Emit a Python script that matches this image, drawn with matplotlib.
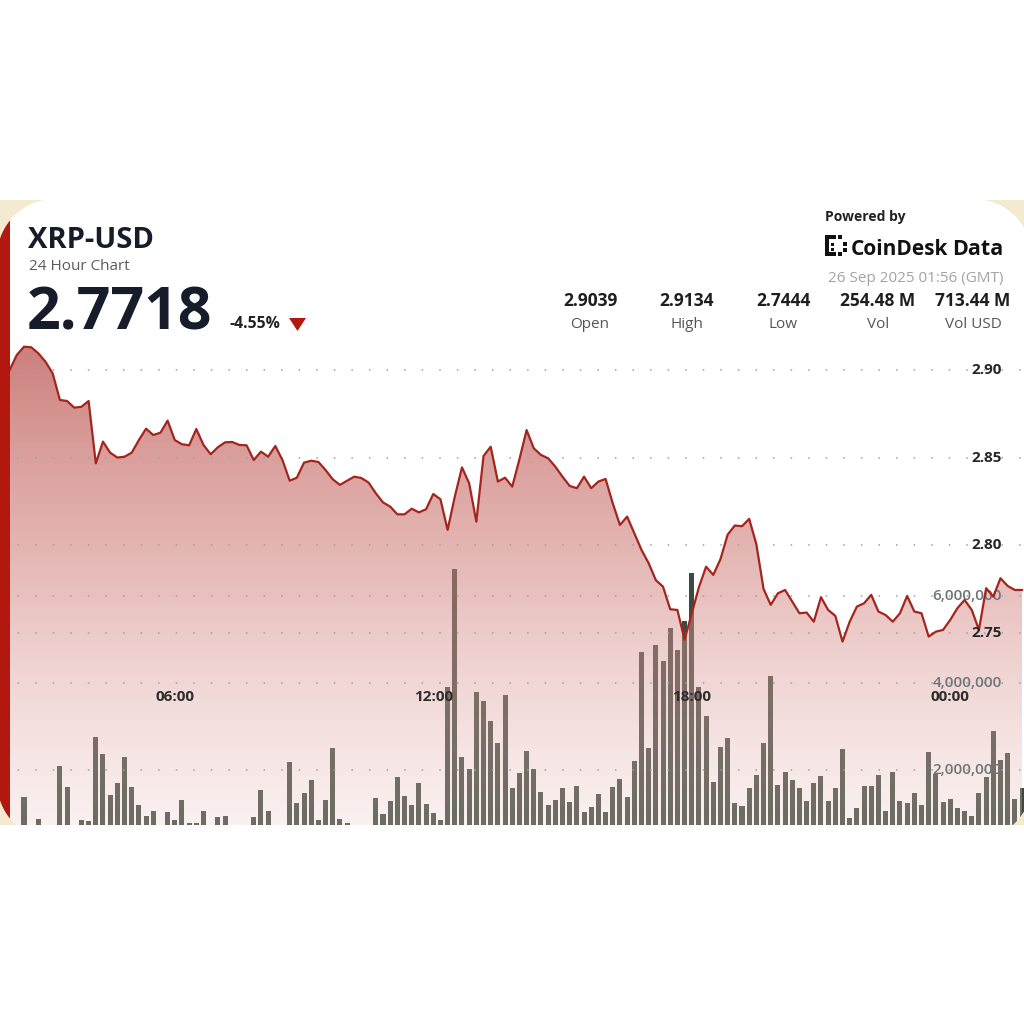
import numpy as np
import pandas as pd
import matplotlib
matplotlib.use("Agg")
import matplotlib.pyplot as plt
import matplotlib.dates as mdates
import matplotlib.transforms as mtransforms
from matplotlib.patches import Polygon, Rectangle

plt.rcParams['font.family'] = ['Open Sans', 'DejaVu Sans']

# ---- data --------------------------------------------------------------
price_times = pd.date_range('2025-09-25 02:10', periods=142, freq='10min')
price = [
    2.9000, 2.9086, 2.9133, 2.9130, 2.9095, 2.9047, 2.8980, 2.8829, 2.8823, 2.8785,
    2.8790, 2.8823, 2.8467, 2.8591, 2.8528, 2.8500, 2.8505, 2.8528, 2.8600, 2.8665,
    2.8629, 2.8642, 2.8711, 2.8600, 2.8576, 2.8570, 2.8663, 2.8572, 2.8519, 2.8559,
    2.8587, 2.8589, 2.8572, 2.8570, 2.8486, 2.8534, 2.8505, 2.8566, 2.8486, 2.8368,
    2.8385, 2.8471, 2.8482, 2.8475, 2.8429, 2.8376, 2.8344, 2.8368, 2.8391, 2.8383,
    2.8357, 2.8296, 2.8244, 2.8220, 2.8176, 2.8176, 2.8208, 2.8187, 2.8205, 2.8292,
    2.8262, 2.8087, 2.8277, 2.8444, 2.8353, 2.8134, 2.8509, 2.8562, 2.8363, 2.8385,
    2.8334, 2.8490, 2.8657, 2.8553, 2.8515, 2.8496, 2.8448, 2.8391, 2.8338, 2.8325,
    2.8391, 2.8325, 2.8363, 2.8378, 2.8239, 2.8115, 2.8163, 2.8068, 2.7973, 2.7897,
    2.7800, 2.7763, 2.7634, 2.7630, 2.7460, 2.7611, 2.7760, 2.7877, 2.7830, 2.7920,
    2.8060, 2.8112, 2.8108, 2.8150, 2.8005, 2.7750, 2.7659, 2.7725, 2.7744, 2.7678,
    2.7611, 2.7615, 2.7563, 2.7703, 2.7630, 2.7596, 2.7449, 2.7563, 2.7649, 2.7668,
    2.7716, 2.7621, 2.7601, 2.7563, 2.7611, 2.7710, 2.7621, 2.7611, 2.7478, 2.7506,
    2.7516, 2.7573, 2.7640, 2.7687, 2.7630, 2.7516, 2.7754, 2.7706, 2.7811, 2.7767,
    2.7744, 2.7744,
]

vol_times = pd.date_range('2025-09-25 02:30', periods=140, freq='10min')
volume_m = [
    1.37, 0.50, 0.87, 0.45, 0.60, 2.10, 1.60, 0.55, 0.84, 0.83,
    2.75, 2.36, 1.42, 1.70, 2.29, 1.60, 1.20, 0.95, 1.06, 0.60,
    1.03, 0.85, 1.31, 0.78, 0.78, 1.06, 0.50, 0.91, 0.94, 0.40,
    0.55, 0.60, 0.92, 1.55, 1.06, 0.50, 0.45, 2.18, 1.24, 1.48,
    1.76, 0.84, 1.30, 2.51, 0.87, 0.79, 0.60, 0.50, 0.65, 1.36,
    1.00, 1.29, 1.83, 1.41, 1.20, 1.71, 1.22, 1.02, 0.84, 3.90,
    6.62, 2.31, 2.03, 3.80, 3.58, 3.12, 2.61, 3.73, 1.59, 1.94,
    2.43, 2.02, 1.49, 1.20, 1.30, 1.59, 1.26, 1.63, 1.03, 1.15,
    1.45, 1.04, 1.60, 1.79, 1.37, 2.21, 4.71, 2.50, 4.88, 4.50,
    5.26, 4.75, 5.42, 6.52, 3.90, 3.23, 1.72, 2.54, 2.74, 1.24,
    1.17, 1.59, 1.89, 2.62, 4.17, 1.66, 1.95, 1.77, 1.58, 1.29,
    1.69, 1.86, 1.29, 1.59, 2.48, 0.89, 1.12, 1.63, 1.63, 1.88,
    1.06, 1.95, 1.29, 1.25, 1.46, 1.20, 2.41, 1.90, 1.26, 1.33,
    1.13, 1.06, 0.94, 1.46, 1.85, 2.90, 2.23, 2.38, 1.33, 1.59,
]

price_ticks = [2.75, 2.80, 2.85, 2.90]
vol_ticks = [2e6, 4e6, 6e6]
time_ticks = pd.to_datetime(['2025-09-25 06:00', '2025-09-25 12:00',
                             '2025-09-25 18:00', '2025-09-26 00:00'])
stat_values = ['2.9039', '2.9134', '2.7444', '254.48 M', '713.44 M']
stat_labels = ['Open', 'High', 'Low', 'Vol', 'Vol USD']

# ---- style -------------------------------------------------------------
LINE = '#a3261e'
BAR = '#3d4a40'
GRID = '#a0a0a0'
CREAM = '#f4ead0'
RED = '#b3180e'
DARK = '#161c29'

W = H = 1024
PX_PER_H = 43.08
TOP_PX, BOT_PX = 340, 825


def main():
    fig = plt.figure(figsize=(10.24, 10.24), dpi=100)
    fig.patch.set_facecolor('white')

    px = mdates.date2num(price_times)
    vx = mdates.date2num(vol_times)
    xmin = vx[0] - (24 / PX_PER_H) / 24
    xmax = xmin + (W / PX_PER_H) / 24

    rect = [0, 1 - BOT_PX / H, 1, (BOT_PX - TOP_PX) / H]
    ax_v = fig.add_axes(rect, zorder=1)
    ax_p = fig.add_axes(rect, zorder=2)

    # volume bars
    vol = np.array(volume_m) * 1e6
    ax_v.bar(vx, vol, width=7 / 1440, color=BAR, linewidth=0)
    ax_v.set_xlim(xmin, xmax)
    ax_v.set_ylim((857 - BOT_PX) / 87 * 2e6, (857 - TOP_PX) / 87 * 2e6)
    ax_v.axis('off')

    # price area with vertical gradient
    p_per_px = 0.05 / 87.57
    ylo = 2.90 - (BOT_PX - 370) * p_per_px
    yhi = 2.90 + (370 - TOP_PX) * p_per_px
    poly = ax_p.fill_between(px, price, ylo - 0.1, facecolor='none', edgecolor='none')
    rows = np.linspace(TOP_PX, BOT_PX, 400)
    ay = [340, 450, 550, 650, 750, 825]
    target = np.stack([np.interp(rows, ay, [202, 218, 228, 238, 246, 250]),
                       np.interp(rows, ay, [126, 158, 182, 208, 229, 241]),
                       np.interp(rows, ay, [122, 155, 179, 206, 228, 240])], axis=1)
    alpha = np.interp(rows, [TOP_PX, BOT_PX], [0.78, 0.27])
    col = (target - (1 - alpha[:, None]) * 255) / alpha[:, None] / 255
    grad = np.zeros((len(rows), 2, 4))
    grad[:, :, :3] = np.clip(col, 0, 1)[:, None, :]
    grad[:, :, 3] = alpha[:, None]
    im = ax_p.imshow(grad, extent=[xmin, xmax, ylo, yhi], aspect='auto',
                     origin='upper', interpolation='bilinear', zorder=1)
    im.set_clip_path(poly.get_paths()[0], transform=ax_p.transData)

    dots = (0, (1, 10.5))
    for p in price_ticks:
        ax_p.axhline(p, color=GRID, lw=1.1, linestyle=dots, zorder=2)
    vtrans = mtransforms.blended_transform_factory(ax_p.transAxes, ax_v.transData)
    for v in vol_ticks:
        ax_p.plot([0, 1], [v, v], transform=vtrans, color=GRID, lw=1.1,
                  linestyle=dots, zorder=2)
        ax_p.text(1002 / W, v, f'{v:,.0f}', transform=vtrans, ha='right', va='center',
                  fontsize=11, color='#6f7479', fontweight='semibold', zorder=3)

    ax_p.plot(px, price, color=LINE, lw=1.6, zorder=4)

    ptrans = mtransforms.blended_transform_factory(ax_p.transAxes, ax_p.transData)
    for p in price_ticks:
        ax_p.text(1002 / W, p, f'{p:.2f}', transform=ptrans, ha='right', va='center',
                  fontsize=11, color='#262626', fontweight='bold', zorder=5)

    ttrans = mtransforms.blended_transform_factory(ax_p.transData, ax_p.transAxes)
    ty = (BOT_PX - 697) / (BOT_PX - TOP_PX)
    for t in time_ticks:
        ax_p.text(mdates.date2num(t), ty, t.strftime('%H:%M'), transform=ttrans,
                  ha='center', va='center', fontsize=11, color='#2d2d2d',
                  fontweight='bold', zorder=5)

    ax_p.set_xlim(xmin, xmax)
    ax_p.set_ylim(ylo, yhi)
    ax_p.axis('off')

    # ---- card frame and header (pixel coordinates) ---------------------
    ov = fig.add_axes([0, 0, 1, 1], zorder=10)
    ov.set_xlim(0, W)
    ov.set_ylim(H, 0)
    ov.axis('off')

    x0, x1, y0, y1, r = -3, 1032, 199, 840, 58
    corners = [((x0 + r, y0 + r), (np.pi, 1.5 * np.pi), (x0, y0)),
               ((x1 - r, y0 + r), (1.5 * np.pi, 2 * np.pi), (x1, y0)),
               ((x1 - r, y1 - r), (0, 0.5 * np.pi), (x1, y1)),
               ((x0 + r, y1 - r), (0.5 * np.pi, np.pi), (x0, y1))]
    for (cx, cy), (a0, a1), cp in corners:
        th = np.linspace(a0, a1, 40)
        pts = [cp] + list(zip(cx + r * np.cos(th), cy + r * np.sin(th)))
        ov.add_patch(Polygon(pts, closed=True, facecolor=CREAM, edgecolor='none'))

    # red left border following the rounded corners
    xs = np.linspace(0, 10, 20)
    top = (y0 + r) - np.sqrt(r ** 2 - (xs - (x0 + r)) ** 2)
    bot = (y1 - r) + np.sqrt(r ** 2 - (xs - (x0 + r)) ** 2)
    stripe = list(zip(xs, top)) + list(zip(xs[::-1], bot[::-1]))
    ov.add_patch(Polygon(stripe, closed=True, facecolor=RED, edgecolor='none'))

    ov.add_patch(Rectangle((0, 0), W, 200, facecolor='white', edgecolor='none'))
    ov.add_patch(Rectangle((0, BOT_PX), W, H - BOT_PX, facecolor='white', edgecolor='none'))

    ov.text(28, 248, 'XRP-USD', fontsize=21, fontweight='bold', color=DARK, va='baseline')
    ov.text(29, 270, '24 Hour Chart', fontsize=11, color='#5a5a5a', va='baseline')
    ov.text(27, 330, '2.7718', fontsize=42.5, fontweight='bold', color=DARK, va='baseline')
    ov.text(229, 328, '-4.55%', fontsize=11.3, fontweight='bold', color='#222222',
            va='baseline')
    ov.add_patch(Polygon([(289, 318), (306, 318), (297.5, 331)], closed=True,
                         facecolor=RED, edgecolor='none'))

    ov.text(825, 221, 'Powered by', fontsize=10, fontweight='bold', color='#222222',
            va='baseline')
    # CoinDesk logo mark
    for bx, by, bw, bh in [(825, 235, 4, 21), (825, 235, 11, 4), (825, 252, 11, 4),
                           (838, 235, 4, 4), (838, 252, 4, 4), (843, 242, 4, 4),
                           (843, 248, 4, 4), (831, 243, 3, 3), (831, 248, 3, 3)]:
        ov.add_patch(Rectangle((bx, by), bw, bh, facecolor='#111111', edgecolor='none'))
    ov.text(851, 255, 'CoinDesk', fontsize=15, fontweight='bold', color='#111111',
            va='baseline')
    ov.text(1003, 255, 'Data', fontsize=15.5, fontweight='bold', color='#111111',
            va='baseline', ha='right')
    ov.text(1003, 282, '26 Sep 2025 01:56 (GMT)', fontsize=11, color='#a3a3a3',
            va='baseline', ha='right')

    for cx, val, lab in zip([590, 687, 783, 878, 973], stat_values, stat_labels):
        ov.text(cx, 306, val, fontsize=12.5, fontweight='bold', color='#1e1e1e',
                ha='center', va='baseline')
        ov.text(cx, 328, lab, fontsize=11, color='#555555', ha='center', va='baseline')

    plt.savefig('out.png', dpi=100)


if __name__ == "__main__":
    main()
